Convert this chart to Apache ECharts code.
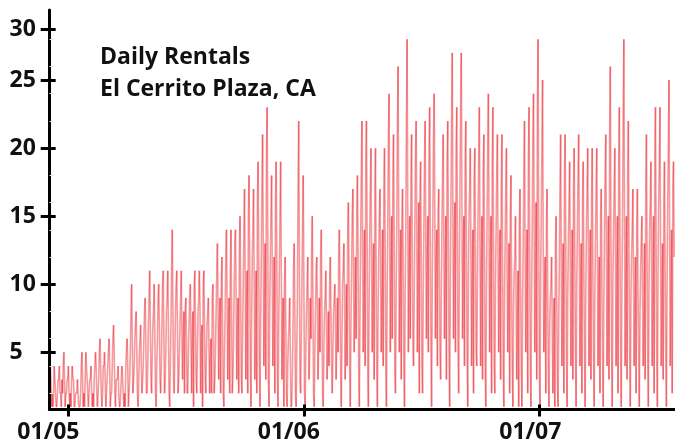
<!DOCTYPE html>
<html lang="en">
<head>
<meta charset="UTF-8">
<title>Daily Rentals</title>
<script src="https://cdn.jsdelivr.net/npm/echarts@6/dist/echarts.min.js"></script>
<style>
  html, body { margin: 0; padding: 0; background: #fff; }
  #main { width: 675px; height: 442px; }
</style>
</head>
<body>
<div id="main"></div>
<script>
// first day of the series (a Friday), then one value per day, one row per 4 weeks
const startDate = [2004, 11, 3];
const dailyRentals = [
  3,4,3,1,2,1,2,  4,3,2,1,1,2,3,  3,4,2,2,1,3,2,  4,5,3,1,2,2,3,
  3,4,2,1,2,1,3,  4,3,3,1,1,2,2,  2,3,2,1,1,1,2,  4,5,3,1,2,1,3,
  5,4,3,2,1,2,3,  3,4,2,1,2,1,3,  4,5,4,2,1,2,3,  5,6,4,2,1,2,4,
  4,5,3,1,2,3,4,  5,6,4,1,2,2,4,  6,7,5,2,1,3,3,  3,4,2,1,1,2,3,
  4,3,2,1,2,1,4,  5,6,4,1,2,3,5,  8,10,6,2,3,4,6,  7,8,5,2,1,3,5,
  6,7,4,2,3,4,6,  8,9,6,2,2,4,7,  9,11,7,3,2,5,7,  8,10,6,2,1,4,6,
  9,10,7,3,2,4,7,  10,11,6,2,3,5,8,  9,11,7,2,1,4,7,  11,14,8,3,2,5,8,
  10,11,7,2,3,5,7,  9,11,6,3,6,8,2,  8,9,6,2,2,5,7,  9,10,6,2,6,8,1,
  10,11,7,3,2,5,8,  9,11,8,2,6,7,1,  10,11,7,3,2,5,7,  8,9,5,2,5,6,2,
  9,10,7,2,3,5,8,  11,13,8,3,7,9,2,  10,12,7,2,1,5,8,  12,14,9,3,7,9,2,
  11,14,8,2,3,6,10,  13,14,9,3,7,9,2,  12,15,10,3,2,6,10,  14,17,11,3,8,11,2,
  15,18,12,4,1,7,12,  14,17,10,3,7,11,2,  16,19,12,4,1,7,12,  17,21,13,4,9,13,3,
  19,23,14,3,1,8,12,  15,18,11,4,8,12,2,  16,19,12,3,1,7,11,  15,19,11,3,7,9,1,
  10,12,7,2,1,4,6,  7,9,5,1,1,3,6,  11,13,8,2,1,5,9,  17,22,12,3,2,6,10,
  14,18,10,2,1,5,8,  10,12,7,3,5,9,6,  12,15,9,2,1,5,8,  11,12,8,3,6,9,5,
  12,14,8,2,1,5,8,  9,11,7,3,5,8,4,  10,12,8,4,2,5,8,  9,10,7,3,6,9,5,
  12,14,9,4,1,6,10,  11,13,9,3,6,10,4,  14,16,10,4,1,7,11,  15,17,11,5,8,12,6,
  15,18,12,4,1,8,13,  18,22,13,5,9,14,4,  19,22,14,4,1,8,13,  17,20,12,5,10,13,3,
  16,20,11,4,1,8,12,  15,17,11,5,9,14,4,  17,20,13,4,1,9,14,  20,24,14,5,11,15,6,
  18,21,13,4,2,9,14,  21,26,15,5,10,14,3,  15,17,11,4,1,9,14,  22,28,16,5,11,15,6,
  18,21,13,6,4,9,14,  19,22,14,5,11,16,2,  17,19,12,4,2,9,14,  19,22,13,6,12,15,5,
  20,23,14,5,1,10,15,  21,24,15,6,12,14,4,  15,17,11,5,3,9,14,  18,21,13,6,11,15,3,
  19,22,14,5,1,10,16,  22,27,15,6,12,16,5,  20,23,14,5,2,11,17,  23,27,16,6,11,15,4,
  19,22,13,5,1,10,15,  17,20,12,4,10,14,2,  18,20,13,5,4,10,15,  19,23,13,4,11,15,3,
  18,21,12,4,1,9,15,  20,24,14,5,11,15,2,  19,23,13,4,2,10,14,  18,21,12,5,10,14,3,
  17,21,12,4,1,9,13,  17,20,11,5,9,13,2,  15,18,10,4,1,8,11,  12,15,9,3,7,11,1,
  14,17,10,4,1,8,13,  18,22,12,5,10,14,2,  19,23,13,4,1,9,14,  21,24,14,5,11,16,3,
  23,28,15,4,1,10,15,  20,25,13,5,9,12,2,  14,17,9,3,1,7,9,  10,12,7,2,6,9,1,
  13,15,9,3,1,7,11,  17,21,12,4,9,13,2,  18,21,13,5,1,9,13,  16,19,11,4,9,14,3,
  17,20,12,5,1,10,14,  18,21,12,4,9,13,2,  16,19,11,5,1,9,14,  17,20,12,4,10,14,3,
  16,20,11,5,1,9,13,  17,20,12,4,9,12,2,  15,17,10,5,1,9,14,  18,21,12,4,10,15,3,
  21,26,14,5,1,10,14,  17,20,12,4,10,15,2,  19,23,13,5,1,10,15,  22,28,15,4,10,15,3,
  18,22,12,5,1,9,12,  14,17,10,4,8,12,2,  14,17,9,5,1,8,11,  13,15,9,4,8,13,3,
  17,21,12,5,1,10,14,  16,19,11,4,10,15,2,  19,23,13,5,1,11,16,  19,23,12,4,9,13,3,
  16,19,11,5,1,10,16,  20,25,13,4,10,14,2,  17,19,12
];

const yTickValues = [5, 10, 15, 20, 25, 28.75];
const yTickLabels = ['5', '10', '15', '20', '25', '30'];
const yMinorValues = [2, 4, 6, 8, 12, 14, 16, 18, 22, 24, 26, 28];
const xTickYears = [2005, 2006, 2007];
const xTickLabels = ['01/05', '01/06', '01/07'];

// x is counted in days from startDate
const start = new Date(startDate[0], startDate[1], startDate[2]);
const dayOf = d => Math.round((d - start) / 864e5);
const xTickDays = xTickYears.map(y => dayOf(new Date(y, 0, 1)));
const segments = dailyRentals.slice(1).map((v, i) => [i, dailyRentals[i], i + 1, v]);

const fontFamily = '"Open Sans", "Noto Sans", sans-serif';
const labelFont = { fontFamily, fontWeight: 'bold', fontSize: 23, color: '#111' };

const chart = echarts.init(document.getElementById('main'));

const yBase = { type: 'value', position: 'left', min: 0.8, max: 30.15, splitLine: { show: false }, z: 5 };
const xBase = { type: 'value', position: 'bottom', min: -0.3, max: dailyRentals.length + 0.3, splitLine: { show: false }, z: 5 };

chart.setOption({
  animation: false,
  title: {
    text: 'Daily Rentals\nEl Cerrito Plaza, CA',
    left: 100,
    top: 41,
    padding: 0,
    textStyle: { fontFamily, fontWeight: 'bold', fontSize: 23, lineHeight: 32, color: '#111' }
  },
  grid: { left: 49.5, right: 0, top: 10, bottom: 32.5, containLabel: false, outerBoundsMode: 'none' },
  xAxis: [
    Object.assign({}, xBase, {
      axisLine: { lineStyle: { color: '#000', width: 3 } },
      axisTick: { show: true, customValues: xTickDays, length: 7, lineStyle: { color: '#000', width: 3 } },
      axisLabel: {
        customValues: xTickDays,
        margin: 11,
        formatter: function (value) {
          const i = xTickDays.indexOf(value);
          return i < 0 ? '' : '{o' + i + '|' + xTickLabels[i] + '}';
        },
        rich: {
          o0: Object.assign({ padding: [0, 40, 0, 0] }, labelFont),
          o1: Object.assign({ padding: [0, 30, 0, 0] }, labelFont),
          o2: Object.assign({ padding: [0, 18, 0, 0] }, labelFont)
        }
      }
    }),
    Object.assign({}, xBase, {
      axisLine: { show: false },
      axisTick: { show: true, customValues: xTickDays, inside: true, length: 5, lineStyle: { color: '#000', width: 3 } },
      axisLabel: { show: false }
    })
  ],
  yAxis: [
    Object.assign({}, yBase, {
      axisLine: { show: true, lineStyle: { color: '#000', width: 3 } },
      axisTick: { show: true, customValues: yTickValues, length: 9, lineStyle: { color: '#000', width: 3 } },
      axisLabel: Object.assign({
        customValues: yTickValues,
        align: 'left',
        margin: 40,
        formatter: v => yTickLabels[yTickValues.indexOf(v)] || ''
      }, labelFont)
    }),
    Object.assign({}, yBase, {
      axisLine: { show: false },
      axisTick: { show: true, customValues: yTickValues, inside: true, length: 6, lineStyle: { color: '#000', width: 3 } },
      axisLabel: { show: false }
    }),
    Object.assign({}, yBase, {
      axisLine: { show: false },
      axisTick: { show: true, customValues: yMinorValues, inside: true, length: 4, lineStyle: { color: '#e4e4e4', width: 1 } },
      axisLabel: { show: false }
    })
  ],
  series: [{
    type: 'custom',
    silent: true,
    z: 1,
    data: segments,
    encode: { x: [0, 2], y: [1, 3] },
    renderItem: function (params, api) {
      const a = api.coord([api.value(0), api.value(1)]);
      const b = api.coord([api.value(2), api.value(3)]);
      return {
        type: 'line',
        shape: { x1: a[0], y1: a[1], x2: b[0], y2: b[1] },
        style: { stroke: 'rgba(232, 30, 40, 0.45)', lineWidth: 1.6 }
      };
    }
  }]
});
</script>
</body>
</html>
